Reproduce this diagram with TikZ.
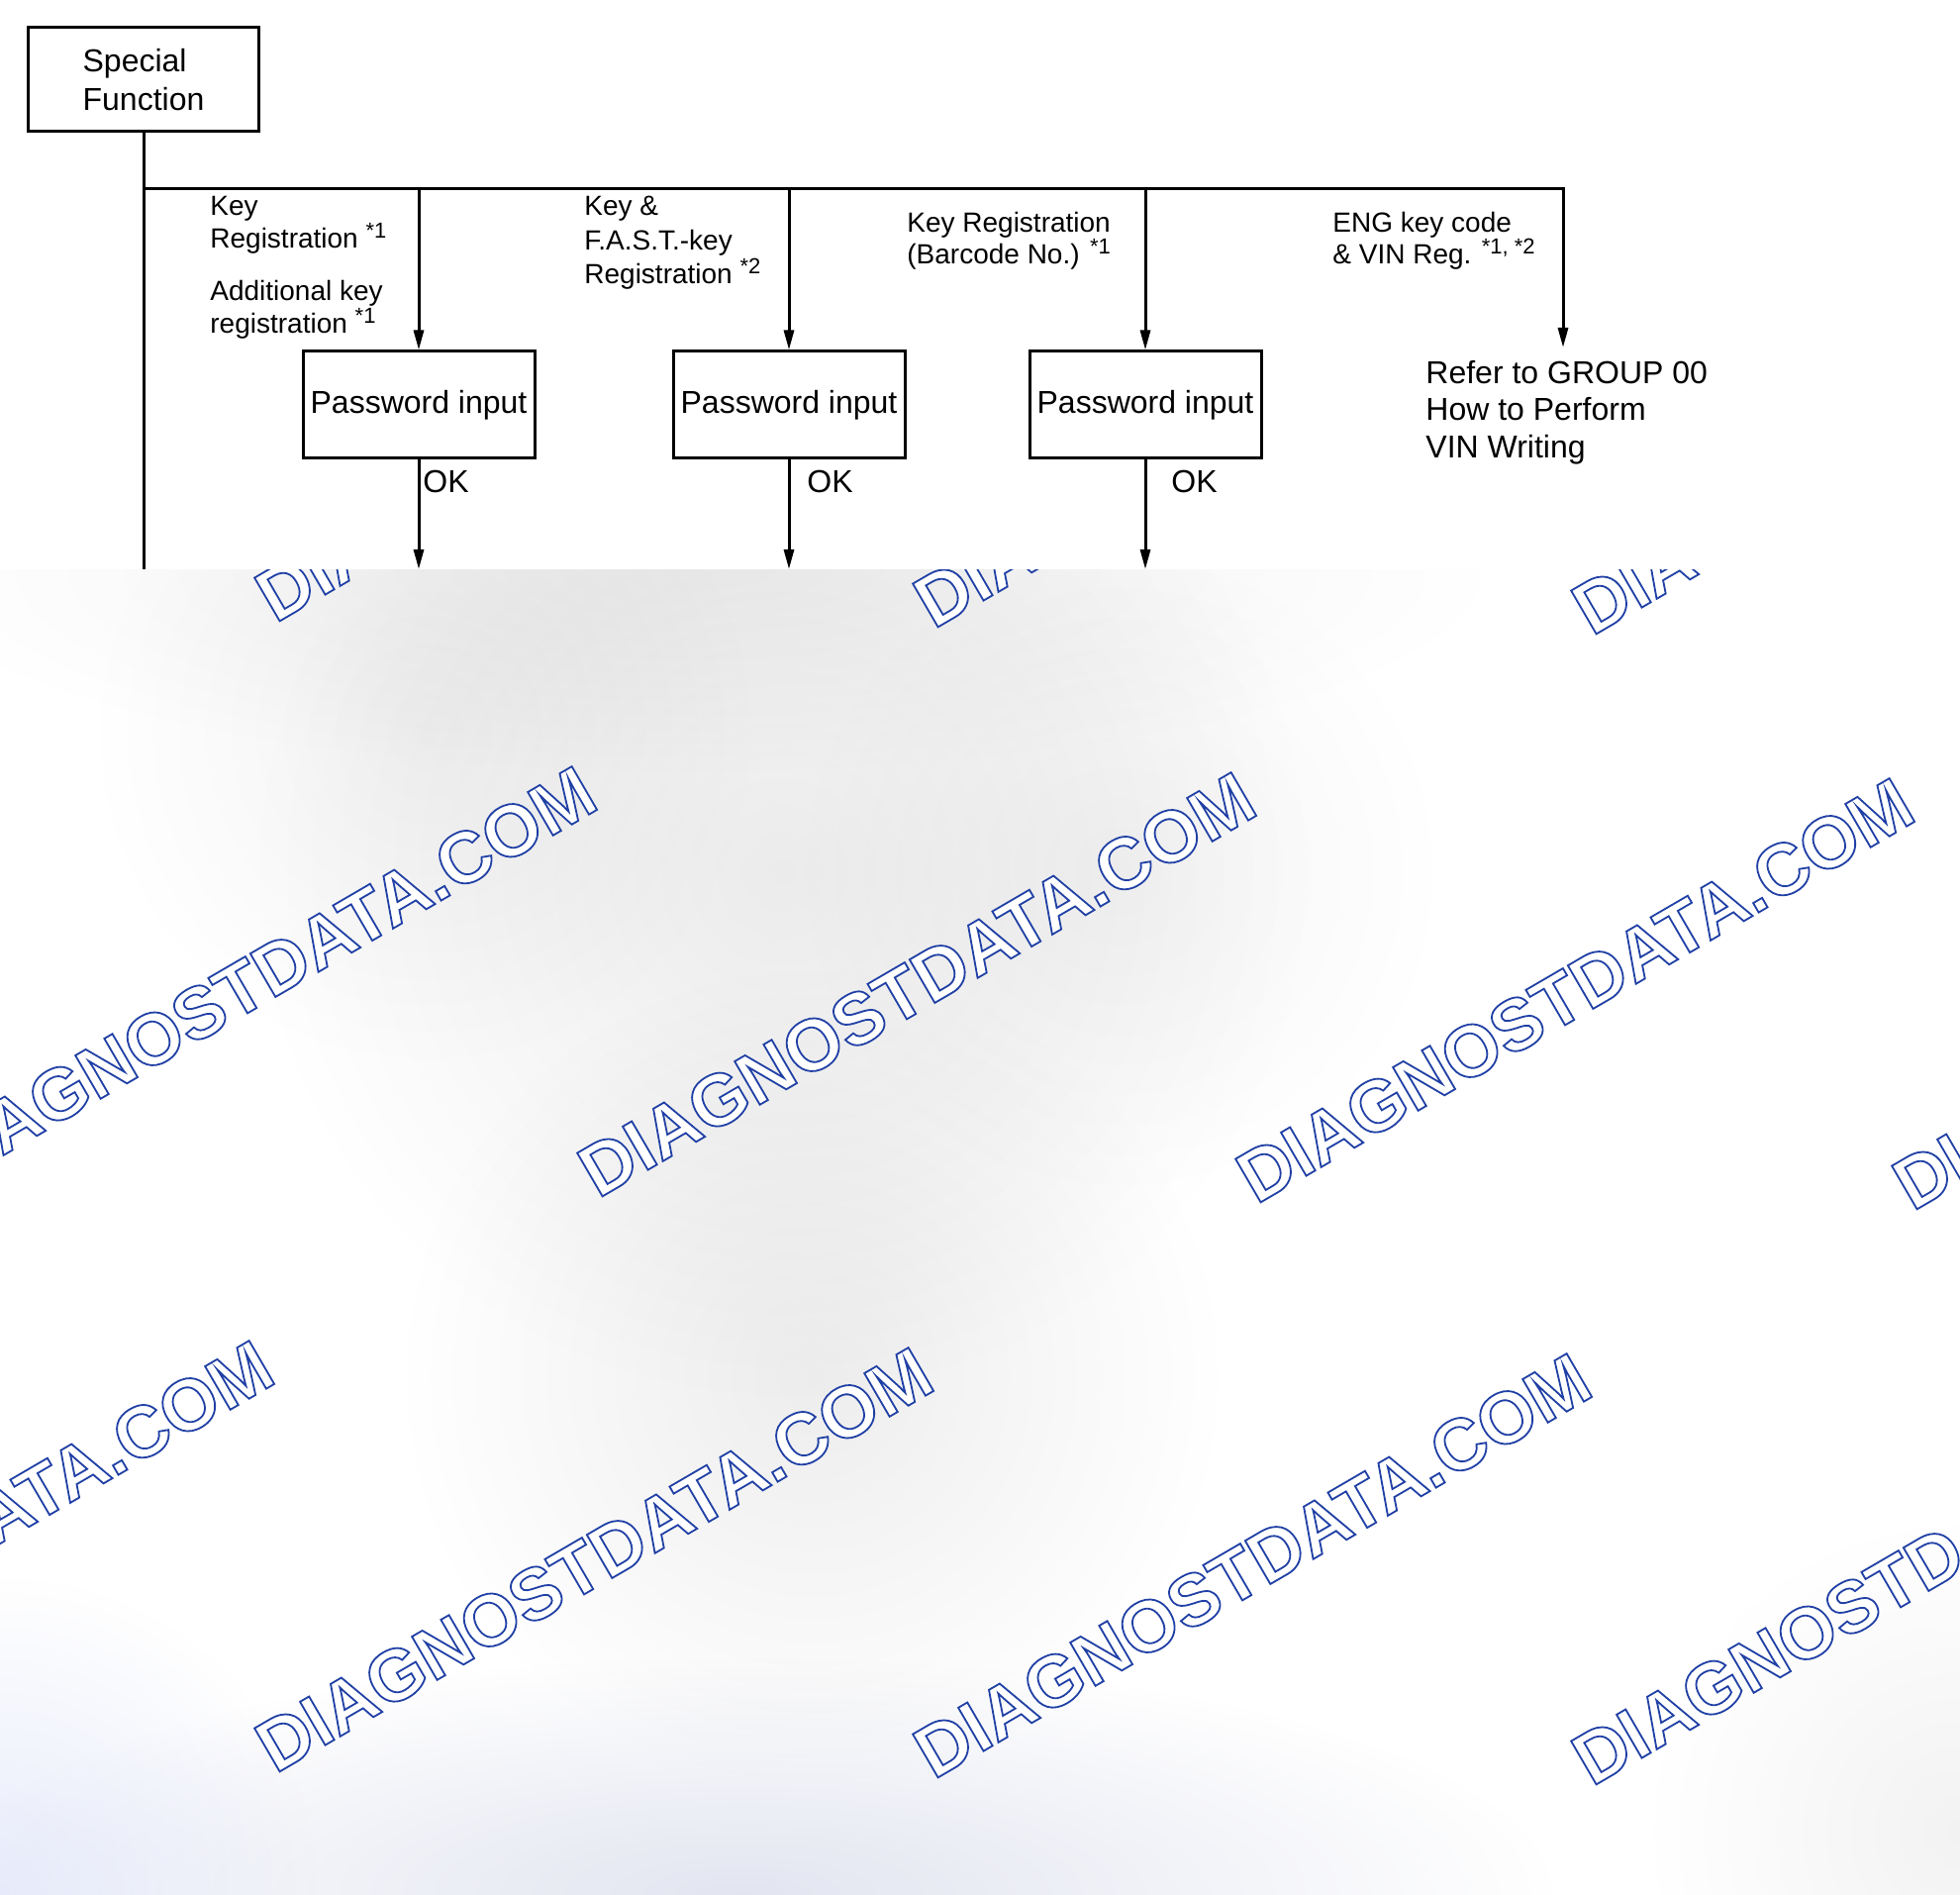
\documentclass[tikz,border=0pt]{standalone}
\usepackage{fontspec}
\setmainfont{Liberation Sans}
\usetikzlibrary{arrows.meta,fadings}
\tikzfading[name=blobfade, inner color=transparent!0, outer color=transparent!100]
\newcommand\wmtxt{\special{pdf:code 2 Tr 0.9 w 0.125 0.25 0.647 RG}DIAGNOSTDATA.COM\special{pdf:code 0 Tr}}
\newcommand\sups[1]{\raisebox{0.38em}{\fontsize{11}{11}\selectfont #1}}
\tikzset{
 ln/.style={line width=1.5pt},
 arr/.style={line width=1.5pt, -{Triangle[length=10pt,width=5pt]}},
 box/.style={draw, line width=1.5pt, minimum width=117pt, minimum height=54pt, inner sep=0pt, font=\fontsize{16}{19.5}\selectfont},
 lab/.style={anchor=north west, inner sep=0pt, align=left, font=\fontsize{14}{16.5}\selectfont},
 oklab/.style={anchor=base west, inner sep=0pt, font=\fontsize{16}{19}\selectfont},
 wm/.style={anchor=base west, inner sep=0pt, rotate=30.2, text=white, font=\fontsize{36.8}{37}\selectfont\bfseries},
 blob/.style={fill=black, path fading=blobfade, fill opacity=#1},
}
\begin{document}
\begin{tikzpicture}[x=0.5pt,y=-0.5pt]
\useasboundingbox (0,0) rectangle (1980,1914);
\fill[white] (0,0) rectangle (1980,1914);
% background blobs
\begin{scope}
\clip (0,575) rectangle (1980,1914);
\fill[blob=0.06] (700,575) ellipse [x radius=820, y radius=210];
\fill[blob=0.08] (790,880) circle [radius=540];
\fill[blob=0.05] (430,740) circle [radius=340];
\fill[blob=0.07] (820,1390) circle [radius=420];
\fill[blob=0.045] (1130,880) circle [radius=330];
\fill[blob=0.05] (1980,1850) circle [radius=320];
\fill[fill={rgb,1:red,0.72;green,0.75;blue,0.86}, path fading=blobfade, fill opacity=0.4] (750,1914) ellipse [x radius=820, y radius=240];
\fill[fill={rgb,1:red,0.82;green,0.85;blue,0.97}, path fading=blobfade, fill opacity=0.5] (0,1914) circle [radius=320];
\end{scope}
% watermarks
\begin{scope}
\node[wm] (w11) at (278,630) {\wmtxt};
\node[wm] (w12) at (943,636) {\wmtxt};
\node[wm] (w13) at (1608,643) {\wmtxt};
\node[wm] (w21) at (-62,1205) {\wmtxt};
\node[wm] (w22) at (604,1211) {\wmtxt};
\node[wm] (w23) at (1269,1217) {\wmtxt};
\node[wm] (w24) at (1932,1224) {\wmtxt};
\node[wm] (w31) at (-388,1785) {\wmtxt};
\node[wm] (w32) at (278,1792) {\wmtxt};
\node[wm] (w33) at (943,1798) {\wmtxt};
\node[wm] (w34) at (1608,1805) {\wmtxt};
\end{scope}
% white diagram area
\fill[white] (0,0) rectangle (1980,575);
% nodes
\node[box, minimum width=116.5pt, minimum height=52.5pt, align=left] (sf) at (145,80.5) {Special\\Function};
\node[box] (p1) at (423,409) {Password input};
\node[box] (p2) at (797,409) {Password input};
\node[box] (p3) at (1157,409) {Password input};
\coordinate (j0) at (145,191);
\coordinate (j1) at (423,191);
\coordinate (j2) at (797,191);
\coordinate (j3) at (1157,191);
\coordinate (j4) at (1579,191);
\coordinate (t0) at (145,575);
\coordinate (r0) at (1579,351);
\coordinate (e1) at (423,575);
\coordinate (e2) at (797,575);
\coordinate (e3) at (1157,575);
% connectors
\draw[ln] (sf.south) -- (t0);
\draw[arr, line join=miter] (j0) -- (j4) -- (r0);
\draw[arr] (j1) -- (p1.north);
\draw[arr] (j2) -- (p2.north);
\draw[arr] (j3) -- (p3.north);
\draw[arr] (p1.south) -- (e1);
\draw[arr] (p2.south) -- (e2);
\draw[arr] (p3.south) -- (e3);
% labels
\node[lab] (l1a) at (212,198) {Key\\Registration \sups{*1}};
\node[lab] (l1b) at (212,283) {Additional key\\registration \sups{*1}};
\node[lab, font=\fontsize{14}{17.25}\selectfont] (l2) at (590,198) {Key \&\\F.A.S.T.-key\\Registration \sups{*2}};
\node[lab, font=\fontsize{14}{16}\selectfont] (l3) at (916,214) {Key Registration\\(Barcode No.) \sups{*1}};
\node[lab, font=\fontsize{14}{16}\selectfont] (l4) at (1346,214) {ENG key code\\\& VIN Reg. \sups{*1, *2}};
\node[lab, font=\fontsize{16}{18.75}\selectfont] (ref) at (1440,363.5) {Refer to GROUP 00\\How to Perform\\VIN Writing};
\node[oklab] (ok1) at (427,497.5) {OK};
\node[oklab] (ok2) at (815,497.5) {OK};
\node[oklab] (ok3) at (1183,497.5) {OK};
\end{tikzpicture}
\end{document}
